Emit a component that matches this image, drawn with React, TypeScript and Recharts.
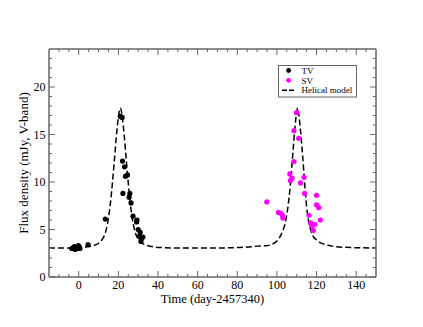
import React from 'react';
import { ComposedChart, Scatter, Line, XAxis, YAxis, Legend } from 'recharts';

// TV (black) photometry
const tvTime = [-3.5, -2.8, -2.2, -1.8, -1.2, -0.6, -0.2, 0.2, 0.6, 4.7, 13.4, 21.0, 21.9, 22.1, 23.1, 23.6, 24.6, 22.3, 25.8, 25.4, 26.4, 27.4, 29.4, 29.2, 30.0, 31.0, 30.7, 31.5, 32.4, 31.4];
const tvFlux = [3.0, 3.1, 3.2, 2.9, 3.1, 3.0, 3.3, 3.2, 3.0, 3.4, 6.1, 16.9, 16.8, 12.2, 11.6, 10.6, 10.75, 8.8, 8.8, 8.4, 7.8, 6.4, 6.0, 5.8, 5.0, 4.7, 4.3, 4.0, 4.2, 3.75];

// SV (magenta) photometry
const svTime = [94.9, 100.8, 102.0, 102.8, 103.0, 106.5, 106.8, 107.6, 108.6, 108.6, 109.9, 111.0, 111.9, 113.7, 114.0, 116.2, 117.0, 117.6, 119.1, 118.4, 120.0, 120.0, 121.1, 121.9];
const svFlux = [7.9, 6.8, 6.7, 6.5, 6.2, 10.85, 10.15, 10.4, 12.15, 15.4, 17.3, 14.6, 9.9, 10.5, 8.8, 6.5, 5.7, 5.4, 5.55, 4.9, 8.6, 7.6, 7.3, 6.0];

// helical model curve
const modelTime = [-15, -5, 0, 5, 8, 10, 12, 13, 14, 15, 16, 17, 18, 19, 20, 21, 22, 23, 24, 25, 26, 27, 28, 29, 30, 32, 34, 37, 42, 50, 60, 70, 80, 85, 90, 95, 98, 100, 102, 103, 104, 105, 106, 107, 108, 109, 110, 110.5, 111, 112, 113, 114, 115, 116, 117, 118, 120, 122, 125, 128, 135, 142, 150];
const modelFlux = [3.05, 3.06, 3.08, 3.2, 3.35, 3.55, 4.0, 4.4, 5.1, 6.2, 7.8, 9.9, 12.3, 14.8, 16.8, 17.8, 16.8, 14.8, 12.3, 9.9, 7.8, 6.2, 5.1, 4.4, 4.0, 3.55, 3.35, 3.2, 3.1, 3.05, 3.04, 3.05, 3.1, 3.15, 3.25, 3.3, 3.5, 3.8, 4.4, 4.9, 5.5, 6.6, 8.1, 10.2, 12.9, 15.5, 17.4, 17.8, 17.2, 15.2, 12.7, 9.9, 7.4, 5.9, 5.0, 4.4, 3.9, 3.6, 3.4, 3.25, 3.12, 3.08, 3.05];

const xMajorTicks = [0, 20, 40, 60, 80, 100, 120, 140];
const yMajorTicks = [0, 5, 10, 15, 20];
const X_DOMAIN: [number, number] = [-15, 150];
const Y_DOMAIN: [number, number] = [0, 24];

const LEGEND_ORDER = ['TV', 'SV', 'Helical model'];

const range = (lo: number, hi: number, step: number) => {
  const out: number[] = [];
  for (let v = lo; v <= hi; v += step) out.push(v);
  return out;
};
const xTicks = range(-10, 145, 5);
const yTicks = range(0, 23, 1);

const tvData = tvTime.map((t, i) => ({ time: t, flux: tvFlux[i] }));
const svData = svTime.map((t, i) => ({ time: t, flux: svFlux[i] }));
const modelData = modelTime.map((t, i) => ({ time: t, flux: modelFlux[i] }));

const FONT = '"Liberation Serif", "Times New Roman", serif';
const FRAME = '#666';
const MAJOR = 6;
const MINOR = 3;
const AXIS_SIZE = 20;

const BottomTick = ({ x, y, payload }: any) => {
  const major = xMajorTicks.includes(payload.value);
  return (
    <g>
      <line x1={x} x2={x} y1={y} y2={y - (major ? MAJOR : MINOR)} stroke={FRAME} />
      {major && (
        <text x={x} y={y + 12} textAnchor="middle" fontSize={12} fontFamily={FONT} fill="#000">
          {payload.value}
        </text>
      )}
    </g>
  );
};

const TopTick = ({ x, y, payload }: any) => {
  const major = xMajorTicks.includes(payload.value);
  return <line x1={x} x2={x} y1={y} y2={y + (major ? MAJOR : MINOR)} stroke={FRAME} />;
};

const LeftTick = ({ x, y, payload }: any) => {
  const major = yMajorTicks.includes(payload.value);
  return (
    <g>
      <line x1={x} x2={x + (major ? MAJOR : MINOR)} y1={y} y2={y} stroke={FRAME} />
      {major && (
        <text x={x - 3.6} y={y + 4} textAnchor="end" fontSize={12} fontFamily={FONT} fill="#000">
          {payload.value}
        </text>
      )}
    </g>
  );
};

const RightTick = ({ x, y, payload }: any) => {
  const major = yMajorTicks.includes(payload.value);
  return <line x1={x} x2={x - (major ? MAJOR : MINOR)} y1={y} y2={y} stroke={FRAME} />;
};

const Dot = ({ cx, cy, fill }: any) => <circle cx={cx} cy={cy} r={2.6} fill={fill} />;

const renderLegend = ({ payload }: any) => {
  const items = (payload || [])
    .filter((e: any) => LEGEND_ORDER.includes(e.value))
    .sort((a: any, b: any) => LEGEND_ORDER.indexOf(a.value) - LEGEND_ORDER.indexOf(b.value));
  return (
    <svg width={80} height={33} style={{ display: 'block' }}>
      <rect x={0.5} y={0.5} width={78} height={31.5} fill="#fff" stroke={FRAME} />
      {items.map((entry: any, i: number) => {
        const cy = 5.5 + i * 9.85;
        return (
          <g key={entry.value}>
            {entry.type === 'line' ? (
              <line x1={4} x2={16} y1={cy} y2={cy} stroke="#000" strokeWidth={1.5} strokeDasharray="5 2" />
            ) : (
              <circle cx={10.6} cy={cy} r={2.4} fill={entry.color} />
            )}
            <text x={23.5} y={cy + 3.2} fontSize={9} fontFamily={FONT} fill="#000">
              {entry.value}
            </text>
          </g>
        );
      })}
    </svg>
  );
};

const XTitle = ({ viewBox }: any) => (
  <text
    x={viewBox.x + viewBox.width / 2}
    y={viewBox.y + 25.5}
    textAnchor="middle"
    fontSize={12.5}
    fontFamily={FONT}
    fill="#000"
  >
    Time (day-2457340)
  </text>
);

const YTitle = ({ viewBox }: any) => {
  const cx = viewBox.x + viewBox.width - 21;
  const cy = viewBox.y + viewBox.height / 2;
  return (
    <text
      x={cx}
      y={cy}
      transform={`rotate(-90, ${cx}, ${cy})`}
      textAnchor="middle"
      fontSize={13}
      fontFamily={FONT}
      fill="#000"
    >
      Flux density (mJy, V-band)
    </text>
  );
};

export default function App() {
  return (
    <div style={{ position: 'absolute', left: 0, top: 0, width: 423, height: 327, background: '#fff' }}>
      <ComposedChart
        width={423}
        height={327}
        margin={{ top: 49 - AXIS_SIZE, right: 47 - AXIS_SIZE, bottom: 50 - AXIS_SIZE, left: 49 - AXIS_SIZE }}
      >
        <XAxis
          dataKey="time"
          type="number"
          domain={X_DOMAIN}
          allowDataOverflow
          ticks={xTicks}
          interval={0}
          height={AXIS_SIZE}
          tickSize={0}
          tickMargin={0}
          tickLine={false}
          tick={<BottomTick />}
          axisLine={{ stroke: FRAME, strokeWidth: 1.5 }}
          label={{ content: XTitle }}
        />
        <XAxis
          xAxisId="top"
          dataKey="time"
          orientation="top"
          type="number"
          domain={X_DOMAIN}
          allowDataOverflow
          ticks={xTicks}
          interval={0}
          height={AXIS_SIZE}
          tickSize={0}
          tickMargin={0}
          tickLine={false}
          tick={<TopTick />}
          axisLine={{ stroke: FRAME, strokeWidth: 1.5 }}
        />
        <YAxis
          type="number"
          domain={Y_DOMAIN}
          allowDataOverflow
          ticks={yTicks}
          interval={0}
          width={AXIS_SIZE}
          tickSize={0}
          tickMargin={0}
          tickLine={false}
          tick={<LeftTick />}
          axisLine={{ stroke: FRAME, strokeWidth: 1.5 }}
          label={{ content: YTitle }}
        />
        <YAxis
          yAxisId="right"
          orientation="right"
          type="number"
          domain={Y_DOMAIN}
          allowDataOverflow
          ticks={yTicks}
          interval={0}
          width={AXIS_SIZE}
          tickSize={0}
          tickMargin={0}
          tickLine={false}
          tick={<RightTick />}
          axisLine={{ stroke: FRAME, strokeWidth: 1.5 }}
        />
        <Legend
          layout="horizontal"
          verticalAlign="middle"
          align="center"
          content={renderLegend}
          wrapperStyle={{ left: 278, top: 65, width: 80, height: 33 }}
        />
        <Line
          data={modelData}
          dataKey="flux"
          name="Helical model"
          type="monotone"
          stroke="#000"
          strokeWidth={1.5}
          strokeDasharray="6 3"
          dot={false}
          activeDot={false}
          legendType="line"
          isAnimationActive={false}
        />
        <Scatter name="TV" data={tvData} dataKey="flux" fill="#000" shape={<Dot />} isAnimationActive={false} />
        <Scatter name="SV" data={svData} dataKey="flux" fill="#ff00ff" shape={<Dot />} isAnimationActive={false} />
        {/* invisible series so the mirrored top/right frame axes get drawn */}
        <Scatter
          name="frame"
          data={modelData}
          dataKey="flux"
          xAxisId="top"
          yAxisId="right"
          shape={() => null}
          legendType="none"
          isAnimationActive={false}
        />
      </ComposedChart>
    </div>
  );
}
